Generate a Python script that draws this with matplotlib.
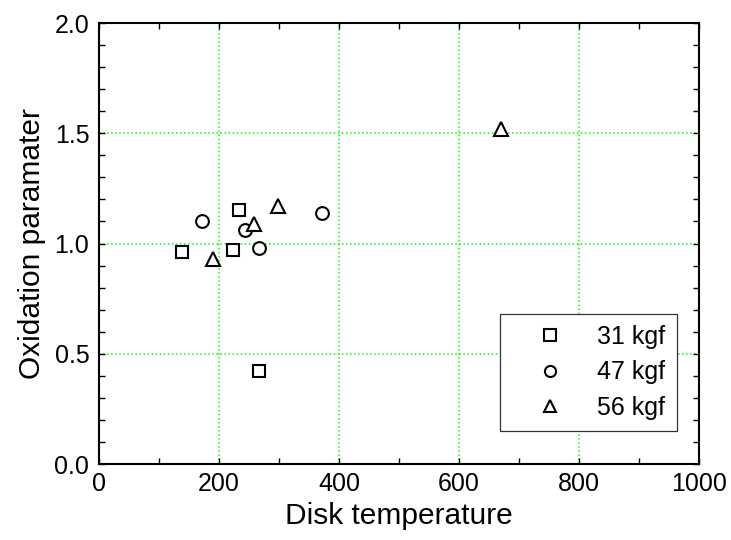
import matplotlib
matplotlib.use("Agg")
import matplotlib.pyplot as plt
from matplotlib.ticker import MultipleLocator, FormatStrFormatter

plt.rcParams['font.family'] = ['Liberation Sans', 'DejaVu Sans']

# Disk temperature vs oxidation parameter for three loads
temp_31 = [138, 234, 224, 267]
oxid_31 = [0.96, 1.15, 0.97, 0.42]

temp_47 = [172, 243, 267, 371]
oxid_47 = [1.10, 1.06, 0.98, 1.14]

temp_56 = [190, 258, 299, 670]
oxid_56 = [0.93, 1.09, 1.17, 1.52]

labels = ["31 kgf", "47 kgf", "56 kgf"]

fig = plt.figure(figsize=(7.31, 5.40), dpi=100)
ax = fig.add_axes([0.1354, 0.1407, 0.8208, 0.8167])

style = dict(linestyle='none', markerfacecolor='white', markeredgecolor='black',
             markeredgewidth=1.5)
ax.plot(temp_31, oxid_31, marker='s', markersize=8.8, label=labels[0], **style)
ax.plot(temp_47, oxid_47, marker='o', markersize=9.2, label=labels[1], **style)
ax.plot(temp_56, oxid_56, marker='^', markersize=10, label=labels[2], **style)

ax.set_xlim(0, 1000)
ax.set_ylim(0, 2.0)
ax.xaxis.set_major_locator(MultipleLocator(200))
ax.xaxis.set_minor_locator(MultipleLocator(100))
ax.yaxis.set_major_locator(MultipleLocator(0.5))
ax.yaxis.set_minor_locator(MultipleLocator(0.1))
ax.yaxis.set_major_formatter(FormatStrFormatter('%.1f'))

ax.tick_params(which='both', direction='in', top=True, right=True,
               length=4.5, width=1.0, labelsize=18)
ax.tick_params(axis='x', pad=6)
ax.tick_params(axis='y', pad=7)
for sp in ax.spines.values():
    sp.set_linewidth(1.5)

ax.grid(True, which='major', color='#00ff00', linestyle=':', linewidth=1.1)
ax.set_axisbelow(True)

ax.set_xlabel("Disk temperature", fontsize=21.5, labelpad=4)
ax.set_ylabel("Oxidation paramater", fontsize=21.5, labelpad=6)

leg = ax.legend(loc='lower right', bbox_to_anchor=(0.963, 0.075), fontsize=18,
                frameon=True, fancybox=False, edgecolor='#333333', framealpha=1,
                handlelength=3.1, handletextpad=0.35, borderpad=0.45,
                labelspacing=0.45, borderaxespad=0)
leg.get_frame().set_linewidth(0.9)
for h in leg.legend_handles:
    h.set_markersize(8)

fig.savefig("out.png", dpi=100)
